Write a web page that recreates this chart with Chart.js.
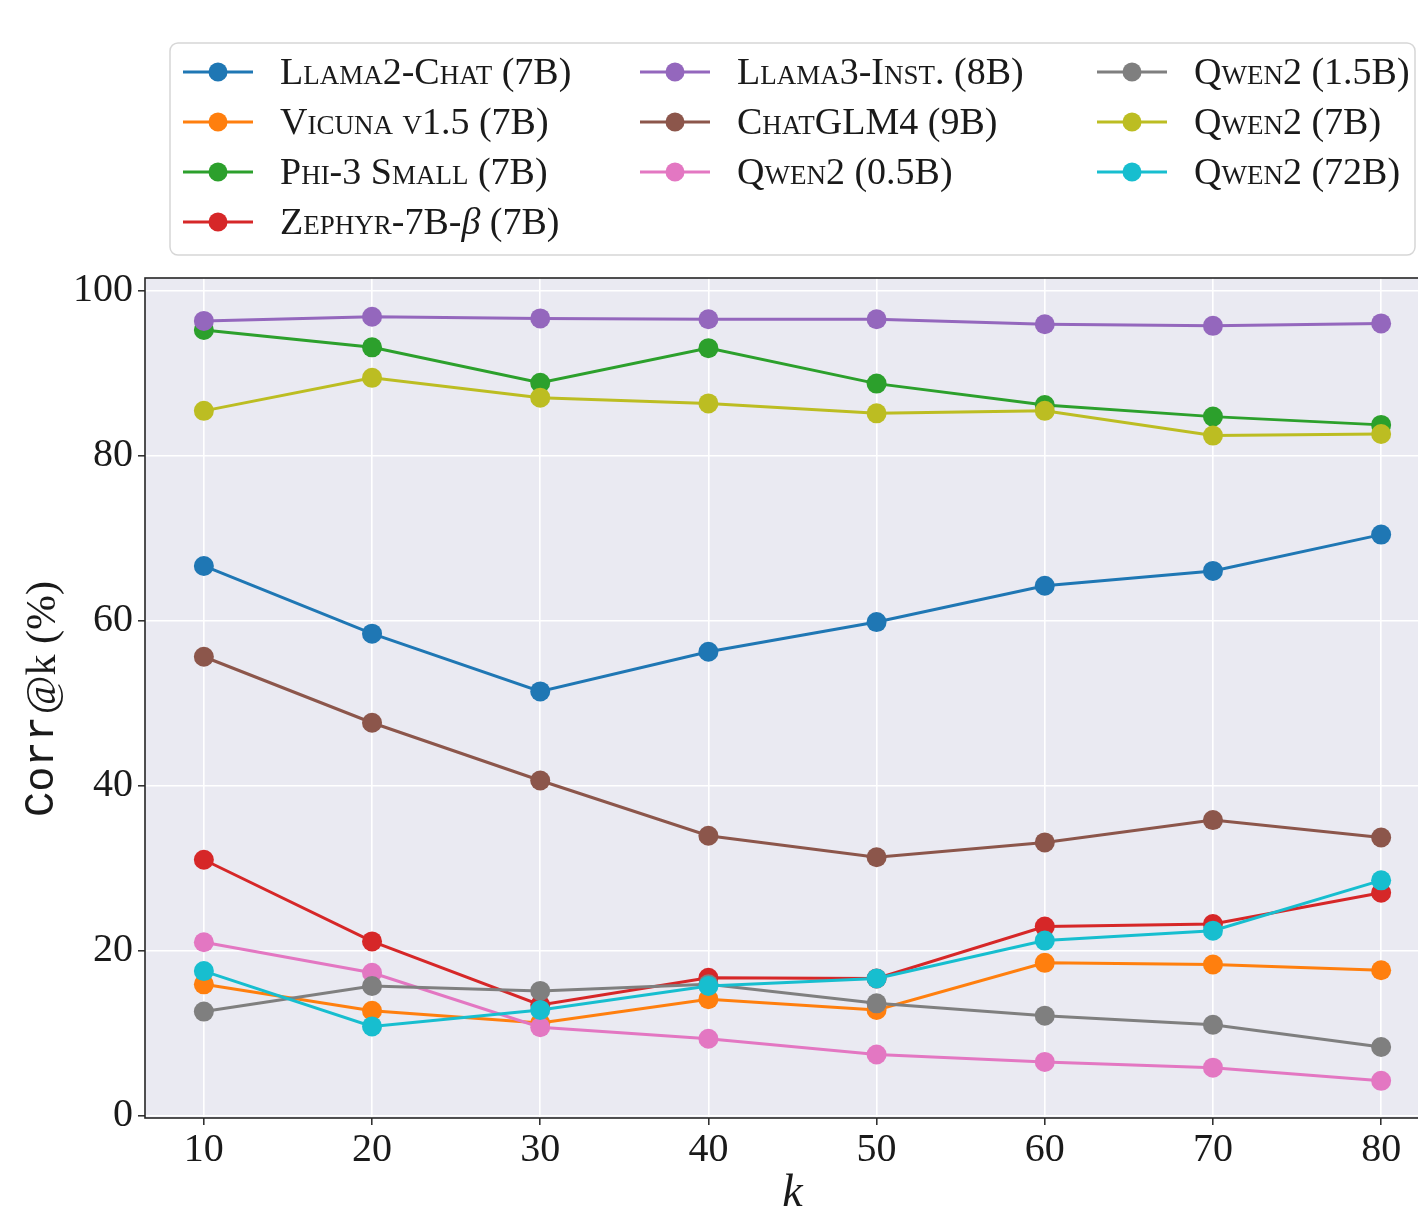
<!DOCTYPE html>
<html>
<head>
<meta charset="utf-8">
<script src="https://cdn.jsdelivr.net/npm/chart.js@4"></script>
<style>
    html, body { margin:0; padding:0; background:#ffffff; overflow:hidden; }
    canvas { display:block; }
</style>
</head>
<body>
<canvas id="graficoCorr" width="1450" height="1206"></canvas>
<script>

// =====================================
// DADOS
// =====================================

const kValues = [10, 20, 30, 40, 50, 60, 70, 80];
const yTicks  = [0, 20, 40, 60, 80, 100];

const modelNames = [
    "Llama2-Chat (7B)",
    "Vicuna v1.5 (7B)",
    "Phi-3 Small (7B)",
    "Zephyr-7B-β (7B)",
    "Llama3-Inst. (8B)",
    "ChatGLM4 (9B)",
    "Qwen2 (0.5B)",
    "Qwen2 (1.5B)",
    "Qwen2 (7B)",
    "Qwen2 (72B)"
];

const llama2Chat = [66.6, 58.4, 51.4, 56.2, 59.8, 64.2, 66.0, 70.4];
const vicuna     = [15.9, 12.7, 11.2, 14.1, 12.8, 18.5, 18.3, 17.6];
const phi3Small  = [95.2, 93.1, 88.8, 93.0, 88.7, 86.1, 84.7, 83.7];
const zephyr     = [31.0, 21.1, 13.4, 16.7, 16.6, 22.9, 23.2, 27.0];
const llama3Inst = [96.3, 96.8, 96.6, 96.5, 96.5, 95.9, 95.7, 96.0];
const chatglm4   = [55.6, 47.6, 40.6, 33.9, 31.3, 33.1, 35.8, 33.7];
const qwen2_05   = [21.0, 17.3, 10.7, 9.3, 7.4, 6.5, 5.8, 4.2];
const qwen2_15   = [12.6, 15.7, 15.1, 15.9, 13.6, 12.1, 11.0, 8.3];
const qwen2_7    = [85.4, 89.4, 87.0, 86.3, 85.1, 85.4, 82.4, 82.6];
const qwen2_72   = [17.5, 10.8, 12.8, 15.7, 16.6, 21.2, 22.4, 28.5];

const series = [
    llama2Chat, vicuna, phi3Small, zephyr, llama3Inst,
    chatglm4, qwen2_05, qwen2_15, qwen2_7, qwen2_72
];

const cores = [
    "#1f77b4", "#ff7f0e", "#2ca02c", "#d62728", "#9467bd",
    "#8c564b", "#e377c2", "#7f7f7f", "#bcbd22", "#17becf"
];

const SERIF = "'Liberation Serif', 'DejaVu Serif', serif";


// =====================================
// TEXTO COM VERSALETE (beta em italico)
// =====================================

function textoLegenda(ctx, text, x, y, size){

    const parts = text.split(/([\u0370-\u03FF]+)/);
    let cx = x;

    parts.forEach(p=>{

        if(!p) return;

        const greek = /[\u0370-\u03FF]/.test(p);

        if(greek){
            ctx.font = "italic " + size + "px " + SERIF;
            if("fontVariantCaps" in ctx) ctx.fontVariantCaps = "normal";
        } else {
            ctx.font = "small-caps " + size + "px " + SERIF;
            if("fontVariantCaps" in ctx) ctx.fontVariantCaps = "small-caps";
        }

        ctx.fillText(p, cx, y);
        cx += ctx.measureText(p).width;

    });

    if("fontVariantCaps" in ctx) ctx.fontVariantCaps = "normal";

}


// =====================================
// PLUGINS
// =====================================

const fundoPlot = {
    id:"fundoPlot",
    beforeDraw(chart){
        const {ctx, chartArea:a} = chart;
        ctx.save();
        ctx.fillStyle = "#eaeaf2";
        ctx.fillRect(a.left, a.top, a.right - a.left, a.bottom - a.top);
        ctx.restore();
    }
};

const moldura = {
    id:"moldura",
    afterDatasetsDraw(chart){
        const {ctx, chartArea:a} = chart;
        ctx.save();
        ctx.strokeStyle = "#262626";
        ctx.lineWidth = 1.6;
        ctx.strokeRect(a.left, a.top, a.right - a.left, a.bottom - a.top);
        ctx.restore();
    }
};

// legenda em 3 colunas, preenchida por coluna (4, 3, 3)
const legendaColunas = {
    id:"legendaColunas",
    afterDraw(chart){

        const ctx = chart.ctx;
        const ds = chart.data.datasets;

        ctx.save();

        const bx = 170, by = 43, bw = 1245, bh = 212, r = 8;
        ctx.beginPath();
        ctx.roundRect(bx, by, bw, bh, r);
        ctx.fillStyle = "rgba(255,255,255,0.9)";
        ctx.fill();
        ctx.strokeStyle = "#d6d6d6";
        ctx.lineWidth = 1.5;
        ctx.stroke();

        const colX = [183, 640, 1097];
        const colStart = [0, 4, 7];
        const rowY0 = 72, rowH = 50;

        ds.forEach((d, i)=>{

            const col = i < 4 ? 0 : (i < 7 ? 1 : 2);
            const row = i - colStart[col];
            const x = colX[col];
            const y = rowY0 + row * rowH;

            ctx.strokeStyle = d.borderColor;
            ctx.lineWidth = 3;
            ctx.beginPath();
            ctx.moveTo(x, y);
            ctx.lineTo(x + 70, y);
            ctx.stroke();

            ctx.fillStyle = d.borderColor;
            ctx.beginPath();
            ctx.arc(x + 35, y, 9.5, 0, Math.PI * 2);
            ctx.fill();

            ctx.fillStyle = "#1a1a1a";
            ctx.textBaseline = "middle";
            ctx.textAlign = "left";
            textoLegenda(ctx, d.label, x + 97, y + 2, 38);

        });

        ctx.restore();

    }
};

const tituloY = {
    id:"tituloY",
    afterDraw(chart){

        const ctx = chart.ctx;
        ctx.save();
        ctx.translate(42, 700);
        ctx.rotate(-Math.PI / 2);
        ctx.textBaseline = "middle";
        ctx.textAlign = "left";
        ctx.fillStyle = "#1a1a1a";

        const monoFont = "42px 'Liberation Mono', 'DejaVu Sans Mono', monospace";
        const serifFont = "42px " + SERIF;

        ctx.font = monoFont;
        const w1 = ctx.measureText("Corr").width;
        ctx.font = serifFont;
        const w2 = ctx.measureText("@k (%)").width;

        const x = -(w1 + w2) / 2;
        ctx.font = monoFont;
        ctx.fillText("Corr", x, 0);
        ctx.font = serifFont;
        ctx.fillText("@k (%)", x + w1 + 2, 2);

        ctx.restore();

    }
};


// =====================================
// GRAFICO
// =====================================

const datasets = series.map((valores, i)=>({

    label: modelNames[i],

    data: kValues.map((k, j)=>({ x:k, y:valores[j] })),

    borderColor: cores[i],
    backgroundColor: cores[i],
    borderWidth: 3,
    pointRadius: 10,
    pointBorderWidth: 0,
    pointHoverRadius: 10,
    tension: 0,
    order: series.length - i

}));

const ctx = document.getElementById("graficoCorr");

new Chart(ctx,{

    type:"line",

    data:{ datasets },

    plugins:[fundoPlot, moldura, legendaColunas, tituloY],

    options:{

        responsive:false,
        animation:false,

        layout:{
            padding:{ top:278, right:2, left:0, bottom:0 }
        },

        plugins:{
            legend:{ display:false },
            tooltip:{ enabled:false }
        },

        scales:{

            x:{
                type:"linear",
                min:6.5,
                max:83.5,
                afterBuildTicks(scale){
                    scale.ticks = kValues.map(v=>({ value:v }));
                },
                afterFit(scale){
                    scale.height = 88;
                },
                grid:{
                    color:"#ffffff",
                    lineWidth:1.6,
                    drawTicks:true,
                    tickLength:7,
                    tickColor:"#262626",
                    tickWidth:1.5
                },
                border:{ display:false },
                ticks:{
                    color:"#1a1a1a",
                    padding:1,
                    maxRotation:0,
                    font:{ family:SERIF, size:40 }
                },
                title:{
                    display:true,
                    text:"k",
                    color:"#1a1a1a",
                    padding:{ top:0, bottom:-16 },
                    font:{ family:SERIF, size:46, style:"italic" }
                }
            },

            y:{
                type:"linear",
                min:-0.3,
                max:101.5,
                afterBuildTicks(scale){
                    scale.ticks = yTicks.map(v=>({ value:v }));
                },
                afterFit(scale){
                    scale.width = 145;
                },
                grid:{
                    color:"#ffffff",
                    lineWidth:1.6,
                    drawTicks:true,
                    tickLength:7,
                    tickColor:"#262626",
                    tickWidth:1.5
                },
                border:{ display:false },
                ticks:{
                    color:"#1a1a1a",
                    padding:5,
                    font:{ family:SERIF, size:40 }
                }
            }

        }

    }

});

</script>
</body>
</html>
